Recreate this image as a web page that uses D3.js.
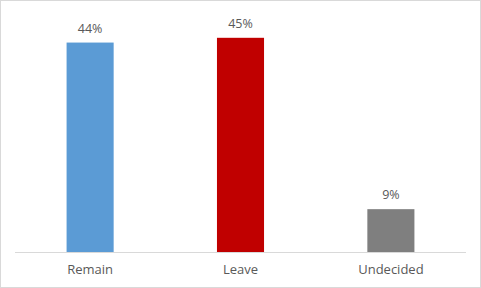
<!DOCTYPE html>
<html>
<head>
<meta charset="utf-8">
<script src="https://cdn.jsdelivr.net/npm/d3@7"></script>
<style>
  body { margin: 0; background: #fff; }
  text { font-family: "Open Sans", sans-serif; fill: #595959; }
</style>
</head>
<body>
<svg id="chart"></svg>
<script>
var categories = ["Remain", "Leave", "Undecided"];
var shares = [0.44, 0.45, 0.09];
var colors = ["#5b9bd5", "#c00000", "#7f7f7f"];

var cfg = { width: 481, height: 288, left: 15, right: 466, top: 14, bottom: 252 };

var svg = d3.select("#chart")
  .attr("width", cfg.width)
  .attr("height", cfg.height);

// chart border
svg.append("rect")
  .attr("x", 0.5).attr("y", 0.5)
  .attr("width", cfg.width - 1).attr("height", cfg.height - 1)
  .attr("fill", "#fff")
  .attr("stroke", "#d9d9d9");

var x = d3.scaleBand()
  .domain(categories)
  .range([cfg.left, cfg.right])
  .paddingInner(0.687)
  .paddingOuter(0.343);

var y = d3.scaleLinear()
  .domain([0, 0.5])
  .range([cfg.bottom, cfg.top]);

var data = categories.map(function(c, i) {
  return { name: c, value: shares[i], color: colors[i] };
});

svg.selectAll("rect.bar")
  .data(data)
  .enter().append("rect")
  .attr("class", "bar")
  .attr("x", function(d) { return x(d.name); })
  .attr("y", function(d) { return y(d.value); })
  .attr("width", x.bandwidth())
  .attr("height", function(d) { return y(0) - y(d.value); })
  .attr("fill", function(d) { return d.color; });

svg.selectAll("text.val")
  .data(data)
  .enter().append("text")
  .attr("class", "val")
  .attr("x", function(d) { return x(d.name) + x.bandwidth() / 2; })
  .attr("y", function(d) { return y(d.value) - 10; })
  .attr("text-anchor", "middle")
  .style("font-size", "12.5px")
  .text(function(d) { return d3.format(".0%")(d.value); });

// x axis
var xAxis = svg.append("g")
  .attr("transform", "translate(0," + cfg.bottom + ")")
  .call(d3.axisBottom(x).tickSize(0).tickPadding(13));

xAxis.select(".domain")
  .attr("stroke", "#d9d9d9")
  .attr("d", "M" + cfg.left + ",0.5H" + cfg.right);

xAxis.selectAll("text")
  .style("font-family", "'Open Sans', sans-serif")
  .style("font-size", "13px")
  .attr("fill", "#595959");
</script>
</body>
</html>
